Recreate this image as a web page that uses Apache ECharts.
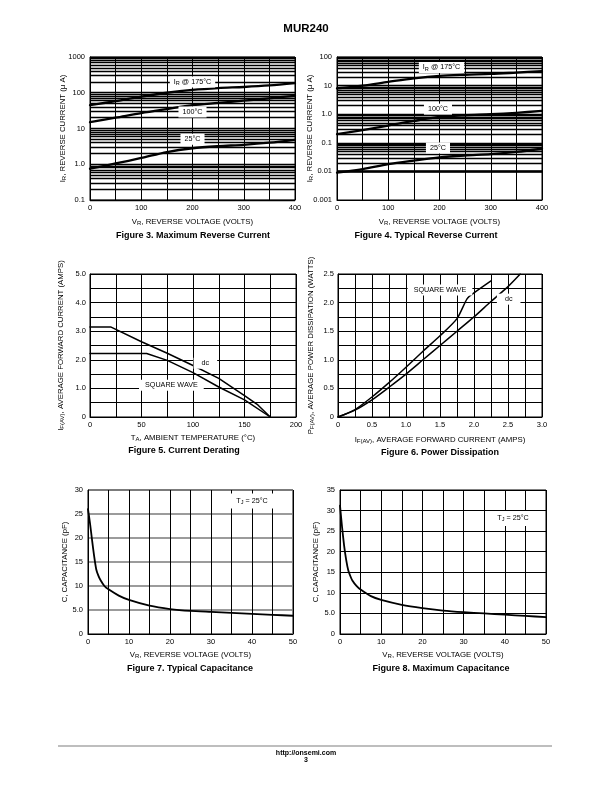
<!DOCTYPE html>
<html><head><meta charset="utf-8">
<script src="https://cdn.jsdelivr.net/npm/echarts@6/dist/echarts.min.js"></script>
<style>html,body{margin:0;padding:0;background:#fff}#c{width:612px;height:792px}</style>
</head><body><div id="c"></div>
<script>
// ---------- Figure 3: Maximum Reverse Current ----------
const fig3Volts = [0, 50, 100, 150, 200, 250, 300, 350, 400];
const fig3Ir175 = [45, 58, 78, 100, 120, 135, 145, 160, 185];
const fig3Ir100 = [15, 20, 27, 35, 45, 52, 60, 70, 82];
const fig3Ir25 = [0.75, 1.05, 1.5, 2.2, 2.8, 3.2, 3.5, 4.0, 4.8];
const fig3YTickLabels = ['0.1', '1.0', '10', '100', '1000'];
const fig3XTickLabels = ['0', '100', '200', '300', '400'];

// ---------- Figure 4: Typical Reverse Current ----------
const fig4Volts = [0, 50, 100, 150, 200, 250, 300, 350, 400];
const fig4Ir175 = [8.0, 10, 13.5, 18, 22, 24, 25.5, 28.5, 32];
const fig4Ir100 = [0.2, 0.28, 0.4, 0.58, 0.8, 0.92, 1.0, 1.12, 1.3];
const fig4Ir25 = [0.009, 0.012, 0.018, 0.024, 0.031, 0.036, 0.04, 0.048, 0.062];
const fig4YTickLabels = ['0.001', '0.01', '0.1', '1.0', '10', '100'];
const fig4XTickLabels = ['0', '100', '200', '300', '400'];

// ---------- Figure 5: Current Derating ----------
const fig5DcTemp = [0, 20, 50, 75, 100, 125, 150, 163, 175];
const fig5DcAmps = [3.15, 3.15, 2.63, 2.23, 1.8, 1.35, 0.75, 0.42, 0];
const fig5SqTemp = [0, 55, 75, 100, 125, 150, 175];
const fig5SqAmps = [2.22, 2.22, 1.98, 1.55, 1.05, 0.6, 0];
const fig5YTickLabels = ['0', '1.0', '2.0', '3.0', '4.0', '5.0'];
const fig5XTickLabels = ['0', '50', '100', '150', '200'];

// ---------- Figure 6: Power Dissipation ----------
const fig6SqAmps = [0, 0.25, 0.5, 0.75, 1.0, 1.25, 1.5, 1.75, 1.9, 2.0, 2.25];
const fig6SqWatts = [0, 0.13, 0.35, 0.6, 0.87, 1.15, 1.42, 1.72, 2.07, 2.17, 2.38];
const fig6DcAmps = [0, 0.25, 0.5, 0.75, 1.0, 1.25, 1.5, 1.75, 2.0, 2.25, 2.5, 2.68];
const fig6DcWatts = [0, 0.12, 0.3, 0.52, 0.75, 1.0, 1.25, 1.5, 1.75, 2.02, 2.28, 2.5];
const fig6YTickLabels = ['0', '0.5', '1.0', '1.5', '2.0', '2.5'];
const fig6XTickLabels = ['0', '0.5', '1.0', '1.5', '2.0', '2.5', '3.0'];

// ---------- Figure 7: Typical Capacitance ----------
const fig7Volts = [0, 0.5, 1, 1.5, 2, 2.5, 3, 4, 5, 7.5, 10, 15, 20, 25, 30, 35, 40, 45, 50];
const fig7Cap = [26, 23, 19.5, 16.2, 13.5, 12.2, 11.3, 10, 9.3, 8, 7.1, 5.9, 5.2, 4.8, 4.6, 4.4, 4.2, 4.0, 3.8];
const fig7YTickLabels = ['0', '5.0', '10', '15', '20', '25', '30'];
const fig7XTickLabels = ['0', '10', '20', '30', '40', '50'];

// ---------- Figure 8: Maximum Capacitance ----------
const fig8Volts = [0, 0.5, 1, 1.5, 2, 2.5, 3, 4, 5, 7.5, 10, 15, 20, 25, 30, 35, 40, 45, 50];
const fig8Cap = [31.2, 26, 21.5, 18, 15.5, 14.1, 13, 11.7, 10.8, 9.2, 8.3, 7.1, 6.3, 5.7, 5.3, 5.0, 4.7, 4.4, 4.1];
const fig8YTickLabels = ['0', '5.0', '10', '15', '20', '25', '30', '35'];
const fig8XTickLabels = ['0', '10', '20', '30', '40', '50'];

// ---------- rendering ----------
const FONT = "'Liberation Sans', Arial, Helvetica, sans-serif";
const pairs = (xs, ys) => xs.map((x, i) => [x, ys[i]]);
const near = (v, step) => Math.abs(v / step - Math.round(v / step)) < 1e-6;

const richName = {
  n: { fontSize: 7.8, fontFamily: FONT, color: '#000', lineHeight: 9 },
  s: { fontSize: 6, fontFamily: FONT, color: '#000', lineHeight: 6, padding: [3, 0, 0, 0], verticalAlign: 'bottom' }
};
const richLbl = {
  n: { fontSize: 7.2, fontFamily: FONT, color: '#000', lineHeight: 9 },
  s: { fontSize: 5.6, fontFamily: FONT, color: '#000', lineHeight: 6, padding: [3, 0, 0, 0], verticalAlign: 'bottom' }
};

function logGrid(minExp, maxExp) {
  const out = [];
  for (let e = minExp; e < maxExp; e++) for (let k = 1; k < 10; k++) out.push(k * Math.pow(10, e));
  out.push(Math.pow(10, maxExp));
  return out;
}

const grids = [
  { left: 90, top: 57, width: 205, height: 143 },
  { left: 337, top: 57, width: 205, height: 143 },
  { left: 90, top: 274, width: 206, height: 143 },
  { left: 338, top: 274, width: 204, height: 143 },
  { left: 88, top: 490, width: 205, height: 144 },
  { left: 340, top: 490, width: 206, height: 144 }
].map(g => Object.assign({ show: true, borderColor: '#000', borderWidth: 1, containLabel: false, outerBoundsMode: 'none' }, g));

const axisLabelBase = { fontSize: 7.5, fontFamily: FONT, color: '#000' };
const splitBlack = { show: true, lineStyle: { color: '#000', width: 1 } };

function xAxis(gi, min, max, interval, labelFn, name, gap) {
  return {
    type: 'value', gridIndex: gi, min, max, interval,
    axisLine: { show: true, lineStyle: { color: '#000', width: 1 } },
    axisTick: { show: false },
    axisLabel: Object.assign({ margin: 4, formatter: labelFn, showMinLabel: true, showMaxLabel: true }, axisLabelBase),
    splitLine: splitBlack,
    name, nameLocation: 'middle', nameGap: gap, nameMoveOverlap: false, nameTextStyle: { rich: richName }
  };
}
function yAxis(gi, cfg, name, gap) {
  return Object.assign({
    gridIndex: gi,
    axisLine: { show: true, lineStyle: { color: '#000', width: 1 } },
    axisTick: { show: false },
    name, nameLocation: 'middle', nameGap: gap, nameRotate: 90, nameMoveOverlap: false, nameTextStyle: { rich: richName }
  }, cfg);
}

const xAxes = [
  xAxis(0, 0, 400, 50, v => near(v, 100) ? fig3XTickLabels[Math.round(v / 100)] : '', '{n|V}{s|R}{n|, REVERSE VOLTAGE (VOLTS)}', 17.5),
  xAxis(1, 0, 400, 50, v => near(v, 100) ? fig4XTickLabels[Math.round(v / 100)] : '', '{n|V}{s|R}{n|, REVERSE VOLTAGE (VOLTS)}', 17.5),
  xAxis(2, 0, 200, 25, v => near(v, 50) ? fig5XTickLabels[Math.round(v / 50)] : '', '{n|T}{s|A}{n|, AMBIENT TEMPERATURE (°C)}', 16),
  xAxis(3, 0, 3, 0.25, v => near(v, 0.5) ? fig6XTickLabels[Math.round(v / 0.5)] : '', '{n|I}{s|F(AV)}{n|, AVERAGE FORWARD CURRENT (AMPS)}', 18),
  xAxis(4, 0, 50, 5, v => near(v, 10) ? fig7XTickLabels[Math.round(v / 10)] : '', '{n|V}{s|R}{n|, REVERSE VOLTAGE (VOLTS)}', 16.5),
  xAxis(5, 0, 50, 5, v => near(v, 10) ? fig8XTickLabels[Math.round(v / 10)] : '', '{n|V}{s|R}{n|, REVERSE VOLTAGE (VOLTS)}', 16.5)
];

const yAxes = [
  yAxis(0, { type: 'log', logBase: 10, min: 0.1, max: 1000, splitLine: { show: false },
    axisLabel: Object.assign({ margin: 5, formatter: v => fig3YTickLabels[Math.round(Math.log10(v)) + 1] || '' }, axisLabelBase) },
    '{n|I}{s|R}{n|, REVERSE CURRENT (μ A)}', 22.5),
  yAxis(1, { type: 'log', logBase: 10, min: 0.001, max: 100, splitLine: { show: false },
    axisLabel: Object.assign({ margin: 5, formatter: v => fig4YTickLabels[Math.round(Math.log10(v)) + 3] || '' }, axisLabelBase) },
    '{n|I}{s|R}{n|, REVERSE CURRENT (μ A)}', 22.5),
  yAxis(2, { type: 'value', min: 0, max: 5, interval: 0.5, splitLine: splitBlack,
    axisLabel: Object.assign({ margin: 4, formatter: v => near(v, 1) ? fig5YTickLabels[Math.round(v)] : '' }, axisLabelBase) },
    '{n|I}{s|F(AV)}{n|, AVERAGE FORWARD CURRENT (AMPS)}', 24.5),
  yAxis(3, { type: 'value', min: 0, max: 2.5, interval: 0.25, splitLine: splitBlack,
    axisLabel: Object.assign({ margin: 4, formatter: v => near(v, 0.5) ? fig6YTickLabels[Math.round(v / 0.5)] : '' }, axisLabelBase) },
    '{n|P}{s|F(AV)}{n|, AVERAGE POWER DISSIPATION (WATTS)}', 22.5),
  yAxis(4, { type: 'value', min: 0, max: 30, interval: 5, splitLine: { show: true, lineStyle: { color: '#7a7a7a', width: 1.5 } },
    axisLabel: Object.assign({ margin: 5, formatter: v => fig7YTickLabels[Math.round(v / 5)] }, axisLabelBase) },
    '{n|C, CAPACITANCE (pF)}', 18.5),
  yAxis(5, { type: 'value', min: 0, max: 35, interval: 5, splitLine: splitBlack,
    axisLabel: Object.assign({ margin: 5, formatter: v => fig8YTickLabels[Math.round(v / 5)] }, axisLabelBase) },
    '{n|C, CAPACITANCE (pF)}', 19.5)
];

function note(coord, text, pad) {
  return {
    symbol: 'rect', symbolSize: 0, silent: true, z: 10, animation: false,
    label: { show: true, position: 'inside', formatter: text, rich: richLbl, backgroundColor: '#fff', padding: pad || [1, 4], fontSize: 7.2, fontFamily: FONT, color: '#000' },
    data: [{ coord }]
  };
}
function logLines(minExp, maxExp) {
  return {
    silent: true, symbol: 'none', z: 1, animation: false, label: { show: false },
    lineStyle: { color: '#000', width: 1.4, type: 'solid' },
    emphasis: { disabled: true },
    data: logGrid(minExp, maxExp).map(v => ({ yAxis: v }))
  };
}
function curve(gi, data, width, smooth, extra) {
  return Object.assign({
    type: 'line', xAxisIndex: gi, yAxisIndex: gi, data, showSymbol: false, symbol: 'none',
    smooth, z: 3, silent: true,
    lineStyle: { color: '#000', width, cap: 'round', join: 'round' }
  }, extra || {});
}

const series = [
  curve(0, pairs(fig3Volts, fig3Ir175), 2.3, 0.3, { markLine: logLines(-1, 3), markPoint: note([200, 200], '{n|I}{s|R}{n| @ 175°C}') }),
  curve(0, pairs(fig3Volts, fig3Ir100), 2.3, 0.3, { markPoint: note([200, 29], '{n|100°C}') }),
  curve(0, pairs(fig3Volts, fig3Ir25), 2.3, 0.3, { markPoint: note([200, 5], '{n|25°C}') }),
  curve(1, pairs(fig4Volts, fig4Ir175), 2.3, 0.3, { markLine: logLines(-3, 2), markPoint: note([204, 43], '{n|I}{s|R}{n| @ 175°C}') }),
  curve(1, pairs(fig4Volts, fig4Ir100), 2.3, 0.3, { markPoint: note([197, 1.5], '{n|100°C}') }),
  curve(1, pairs(fig4Volts, fig4Ir25), 2.3, 0.3, { markPoint: note([197, 0.066], '{n|25°C}') }),
  curve(2, pairs(fig5DcTemp, fig5DcAmps), 1.5, false, { markPoint: note([112, 1.88], '{n|dc}', [1, 8]) }),
  curve(2, pairs(fig5SqTemp, fig5SqAmps), 1.5, false, { markPoint: note([79, 1.11], '{n|SQUARE WAVE}', [1, 6]) }),
  curve(3, pairs(fig6SqAmps, fig6SqWatts), 1.5, 0.25, { markPoint: note([1.5, 2.22], '{n|SQUARE WAVE}', [1, 6]) }),
  curve(3, pairs(fig6DcAmps, fig6DcWatts), 1.5, 0.25, { markPoint: note([2.51, 2.06], '{n|dc}', [1, 8]) }),
  curve(4, pairs(fig7Volts, fig7Cap), 1.8, 0.2, { markPoint: note([40, 27.7], '{n|T}{s|J}{n| = 25°C}', [3, 6]) }),
  curve(5, pairs(fig8Volts, fig8Cap), 1.8, 0.2, { markPoint: note([42, 28.1], '{n|T}{s|J}{n| = 25°C}', [3, 6]) })
];

function txt(x, y, text, size, bold) {
  return { type: 'text', x, y, silent: true, style: { text, fill: '#000', font: (bold ? 'bold ' : '') + size + 'px ' + FONT, textAlign: 'center', textVerticalAlign: 'middle' } };
}

const graphic = [
  txt(306, 29, 'MUR240', 11.5, true),
  txt(193, 236, 'Figure 3. Maximum Reverse Current', 9, true),
  txt(426, 236, 'Figure 4. Typical Reverse Current', 9, true),
  txt(184, 451, 'Figure 5. Current Derating', 9, true),
  txt(440, 453, 'Figure 6. Power Dissipation', 9, true),
  txt(190, 669, 'Figure 7. Typical Capacitance', 9, true),
  txt(441, 669, 'Figure 8. Maximum Capacitance', 9, true),
  { type: 'line', silent: true, shape: { x1: 58, y1: 746, x2: 552, y2: 746 }, style: { stroke: '#a8a8a8', lineWidth: 1.5 } },
  txt(306, 753, 'http://onsemi.com', 7, true),
  txt(306, 760, '3', 7, true)
];

const chart = echarts.init(document.getElementById('c'), null, { renderer: 'canvas' });
chart.setOption({
  animation: false,
  backgroundColor: '#fff',
  textStyle: { fontFamily: FONT },
  grid: grids,
  xAxis: xAxes,
  yAxis: yAxes,
  series,
  graphic
});
</script></body></html>
